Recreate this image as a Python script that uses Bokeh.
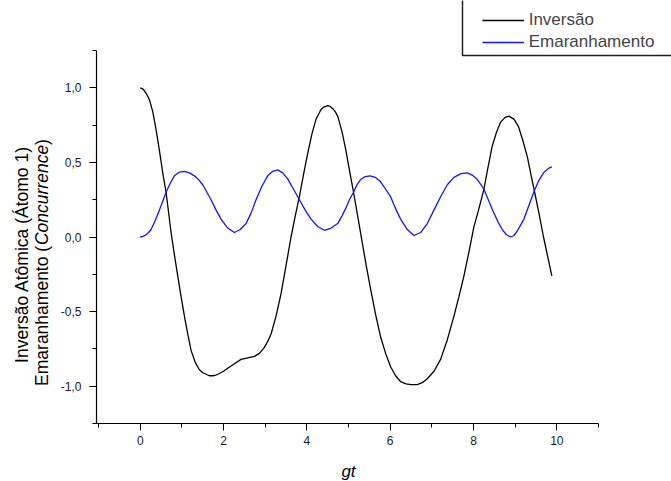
from bokeh.plotting import figure
from bokeh.models import (Legend, LegendItem, Label, BoxAnnotation,
                          SingleIntervalTicker, CustomJSTickFormatter, Range1d)
from bokeh.embed import file_html
from bokeh.resources import INLINE

# Atomic inversion of atom 1 versus scaled time gt
gt_inv = [0.00, 0.05, 0.10, 0.15, 0.22, 0.30, 0.38, 0.46, 0.54, 0.62, 0.74, 0.82,
          0.90, 0.98, 1.06, 1.14, 1.22, 1.32, 1.42, 1.50, 1.58, 1.66, 1.74, 1.82,
          1.90, 2.00, 2.10, 2.26, 2.42, 2.58, 2.74, 2.86, 2.98, 3.06, 3.14, 3.26,
          3.38, 3.50, 3.62, 3.72, 3.82, 3.92, 4.02, 4.12, 4.22, 4.34, 4.40, 4.50,
          4.56, 4.62, 4.68, 4.74, 4.84, 4.93, 5.02, 5.12, 5.22, 5.33, 5.43, 5.53,
          5.65, 5.77, 5.89, 6.01, 6.13, 6.25, 6.38, 6.50, 6.65, 6.78, 6.89, 7.05,
          7.21, 7.37, 7.53, 7.65, 7.77, 7.89, 8.01, 8.13, 8.25, 8.35, 8.45, 8.55,
          8.65, 8.75, 8.85, 8.97, 9.08, 9.18, 9.29, 9.37, 9.46, 9.57, 9.68, 9.78, 9.88]
inversao = [1.00, 0.995, 0.98, 0.96, 0.92, 0.84, 0.72, 0.58, 0.43, 0.30, 0.03, -0.12,
            -0.26, -0.40, -0.53, -0.65, -0.76, -0.84, -0.89, -0.91, -0.92, -0.93, -0.93, -0.925,
            -0.915, -0.90, -0.88, -0.85, -0.82, -0.81, -0.80, -0.78, -0.74, -0.70, -0.65, -0.53,
            -0.38, -0.19, 0.00, 0.14, 0.27, 0.42, 0.56, 0.69, 0.79, 0.855, 0.87, 0.88,
            0.875, 0.86, 0.84, 0.81, 0.71, 0.59, 0.45, 0.30, 0.14, -0.04, -0.20, -0.35,
            -0.52, -0.67, -0.78, -0.87, -0.93, -0.97, -0.985, -0.99, -0.99, -0.975, -0.95, -0.90,
            -0.82, -0.69, -0.53, -0.40, -0.26, -0.10, 0.07, 0.19, 0.32, 0.47, 0.61, 0.70,
            0.77, 0.80, 0.81, 0.79, 0.74, 0.65, 0.54, 0.43, 0.31, 0.16, 0.00, -0.13, -0.26]

# Entanglement (concurrence) versus gt
gt_ent = [0.00, 0.07, 0.14, 0.20, 0.26, 0.36, 0.46, 0.54, 0.62, 0.72, 0.82, 0.94,
          1.06, 1.18, 1.30, 1.40, 1.50, 1.60, 1.70, 1.82, 1.94, 2.10, 2.26, 2.40,
          2.54, 2.66, 2.78, 2.92, 3.06, 3.18, 3.30, 3.42, 3.54, 3.68, 3.82, 3.96,
          4.10, 4.26, 4.42, 4.58, 4.74, 4.84, 4.93, 5.02, 5.12, 5.20, 5.29, 5.40,
          5.52, 5.64, 5.77, 5.89, 6.01, 6.13, 6.25, 6.41, 6.57, 6.73, 6.89, 7.05,
          7.21, 7.37, 7.53, 7.70, 7.85, 7.97, 8.09, 8.17, 8.25, 8.37, 8.49, 8.59,
          8.69, 8.79, 8.89, 8.97, 9.05, 9.13, 9.21, 9.34, 9.46, 9.57, 9.68, 9.80, 9.88]
emaranhamento = [0.00, 0.004, 0.015, 0.03, 0.05, 0.11, 0.18, 0.24, 0.30, 0.36, 0.41, 0.435,
                 0.44, 0.43, 0.41, 0.385, 0.35, 0.30, 0.25, 0.18, 0.12, 0.06, 0.03, 0.05,
                 0.09, 0.16, 0.25, 0.34, 0.41, 0.44, 0.45, 0.43, 0.39, 0.32, 0.25, 0.18,
                 0.12, 0.07, 0.045, 0.06, 0.09, 0.14, 0.19, 0.25, 0.30, 0.35, 0.385, 0.405,
                 0.41, 0.40, 0.37, 0.32, 0.27, 0.19, 0.12, 0.05, 0.01, 0.03, 0.09, 0.18,
                 0.27, 0.35, 0.40, 0.425, 0.43, 0.415, 0.385, 0.355, 0.32, 0.24, 0.16, 0.10,
                 0.05, 0.015, 0.00, 0.01, 0.04, 0.08, 0.12, 0.22, 0.31, 0.38, 0.43, 0.46, 0.47]

# axis extents and where they sit on the page (pixels from top-left)
X_LO, X_HI = -1.05, 11.0
Y_LO, Y_HI = -1.25, 1.25
W, H = 671, 481
AX_LEFT, AX_RIGHT, AX_TOP, AX_BOTTOM = 96, 598, 50, 423
FONT = "Liberation Sans"

# the frame fills the whole page so that titles and legend are not clipped;
# the axes are pinned inside it with fixed_location
kx = (AX_RIGHT - AX_LEFT) / (X_HI - X_LO)
ky = (AX_BOTTOM - AX_TOP) / (Y_HI - Y_LO)
x_range = Range1d(X_LO - AX_LEFT / kx, X_HI + (W - AX_RIGHT) / kx)
y_range = Range1d(Y_LO - (H - AX_BOTTOM) / ky, Y_HI + AX_TOP / ky)


def px_to_x(px):
    return x_range.start + px / kx


def py_to_y(py):
    return y_range.end - py / ky


p = figure(width=W, height=H, output_backend="svg", toolbar_location=None,
           x_range=x_range, y_range=y_range,
           min_border_left=0, min_border_right=0, min_border_top=0, min_border_bottom=0)
p.outline_line_color = None
p.xgrid.visible = False
p.ygrid.visible = False
p.background_fill_color = "white"
p.border_fill_color = "white"

r_inv = p.line(gt_inv, inversao, line_color="black", line_width=1.3)
r_ent = p.line(gt_ent, emaranhamento, line_color="#1414ff", line_width=1.3)

# axes
xa = p.xaxis[0]
xa.ticker = SingleIntervalTicker(interval=2, num_minor_ticks=2)
xa.fixed_location = Y_LO
xa.bounds = (X_LO, X_HI)
ya = p.yaxis[0]
ya.ticker = SingleIntervalTicker(interval=0.5, num_minor_ticks=2)
ya.formatter = CustomJSTickFormatter(code="return tick.toFixed(1).replace('.', ',');")
ya.fixed_location = X_LO
ya.bounds = (Y_LO, Y_HI)
for ax in (xa, ya):
    ax.axis_line_color = "black"
    ax.axis_line_width = 1.2
    ax.major_tick_line_color = "black"
    ax.minor_tick_line_color = "black"
    ax.major_tick_in = 0
    ax.major_tick_out = 7
    ax.minor_tick_in = 0
    ax.minor_tick_out = 4
    ax.major_label_text_font = FONT
    ax.major_label_text_font_size = "12px"
    ax.major_label_text_color = "#1a1a2a"
xa.major_label_standoff = 5
ya.major_label_standoff = 8

p.add_layout(Label(x=px_to_x(348), y=py_to_y(471), text="gt", text_align="center",
                   text_baseline="middle", text_font=FONT, text_font_style="italic",
                   text_font_size="17px", text_color="black"))

# two-line vertical axis title, with the italic word set separately
LAB_SIZE = 17.5
p.add_layout(Label(x=px_to_x(21.7), y=py_to_y(254), text="Inversão Atômica (Átomo 1)",
                   angle=90, angle_units="deg", text_align="center", text_baseline="middle",
                   text_font=FONT, text_font_size=f"{LAB_SIZE}px", text_color="black"))
seg_start = 262 + 14.105 * LAB_SIZE / 2
parts = [("Emaranhamento (", "normal", 8.048), ("Concurrence", "italic", 5.724), (")", "normal", 0.333)]
for txt, style, width_em in parts:
    p.add_layout(Label(x=px_to_x(41.7), y=py_to_y(seg_start), text=txt,
                       angle=90, angle_units="deg", text_align="left", text_baseline="middle",
                       text_font=FONT, text_font_style=style, text_font_size=f"{LAB_SIZE}px",
                       text_color="black"))
    seg_start -= width_em * LAB_SIZE

# legend, its frame open to the top and right edges of the page
legend = Legend(items=[LegendItem(label="Inversão", renderers=[r_inv]),
                       LegendItem(label="Emaranhamento", renderers=[r_ent])],
                location=(481.7, H - 51.7),
                padding=0, margin=0, spacing=2, glyph_width=42, glyph_height=20,
                label_height=20, label_standoff=5,
                label_text_font=FONT, label_text_font_size="17px",
                border_line_alpha=0, background_fill_alpha=0)
p.add_layout(legend, "center")
p.add_layout(BoxAnnotation(left=px_to_x(462), right=px_to_x(700), top=py_to_y(-20),
                           bottom=py_to_y(55), fill_alpha=0, line_color="#222222",
                           line_alpha=1.0, line_width=1.5, level="overlay"))

open("out.html", "w").write(file_html(p, INLINE))
